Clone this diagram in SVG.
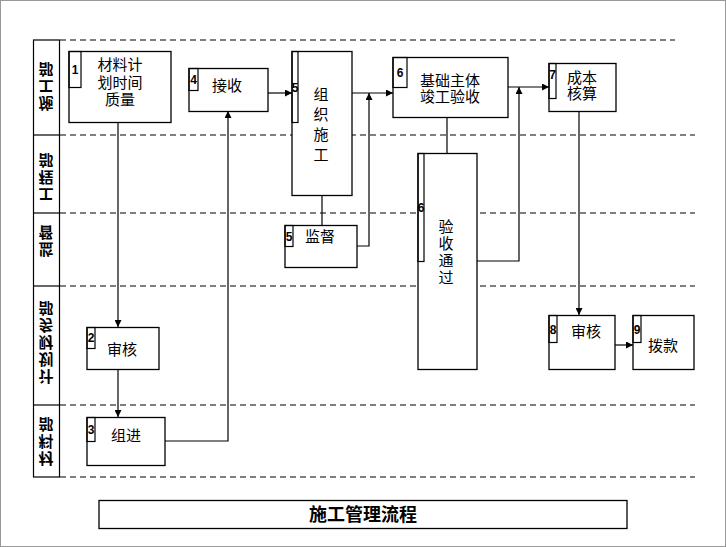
<svg xmlns="http://www.w3.org/2000/svg" width="726" height="547" viewBox="0 0 726 547">
<defs>
<marker id="arr" viewBox="0 0 10 10" refX="10" refY="5" markerWidth="7" markerHeight="7" markerUnits="userSpaceOnUse" orient="auto">
<path d="M0,0 L10,5 L0,10 z" fill="#000"/>
</marker>
<style>
.box{fill:#fff;stroke:#000;stroke-width:1.3}
.tab{fill:none;stroke:#000;stroke-width:1.2}
.dash{stroke:#000;stroke-width:1;stroke-dasharray:6 4;fill:none}
.solid{stroke:#000;stroke-width:1.2;fill:none}
.t{font-family:"Noto Sans CJK SC","Liberation Sans",sans-serif;font-size:15px;fill:#000;text-anchor:middle}
.v{font-family:"Noto Sans CJK SC",sans-serif;font-size:15px;fill:#000;text-anchor:middle;writing-mode:vertical-rl}
.n{font-family:"Liberation Sans",Arial,sans-serif;font-size:12px;font-weight:bold;fill:#000;text-anchor:middle}
.lane{font-family:"Noto Sans CJK SC",sans-serif;font-size:15px;font-weight:bold;fill:#000;text-anchor:middle;writing-mode:vertical-rl;letter-spacing:2px}
.title{font-family:"Noto Sans CJK SC",serif;font-size:18px;font-weight:bold;fill:#000;text-anchor:middle}
.c{stroke:#000;stroke-width:1.2;fill:none}
</style>
</defs>
<rect x="0" y="0" width="726" height="547" fill="#fff"/>
<rect x="0.5" y="0.5" width="725" height="546" fill="none" stroke="#999" stroke-width="1"/>

<g id="lanes">
<line class="dash" x1="60" y1="40" x2="675" y2="40"/>
<line class="dash" x1="60" y1="135" x2="695" y2="135"/>
<line class="dash" x1="60" y1="213" x2="695" y2="213"/>
<line class="dash" x1="60" y1="286" x2="695" y2="286"/>
<line class="dash" x1="60" y1="405" x2="695" y2="405"/>
<line class="dash" x1="60" y1="477" x2="695" y2="477"/>
<rect class="solid" x="33.5" y="40" width="26" height="437"/>
<line class="solid" x1="33.5" y1="135" x2="59.5" y2="135"/>
<line class="solid" x1="33.5" y1="213" x2="59.5" y2="213"/>
<line class="solid" x1="33.5" y1="286" x2="59.5" y2="286"/>
<line class="solid" x1="33.5" y1="405" x2="59.5" y2="405"/>
<g transform="translate(46,86) scale(1,-1)"><text class="lane" x="0" y="0">施工部</text></g>
<g transform="translate(46,177) scale(1,-1)"><text class="lane" x="0" y="0">工程部</text></g>
<g transform="translate(46,240) scale(1,-1)"><text class="lane" x="0" y="0">监督</text></g>
<g transform="translate(46,342) scale(1,-1)"><text class="lane" x="0" y="0">计划财务部</text></g>
<g transform="translate(46,441) scale(1,-1)"><text class="lane" x="0" y="0">材料部</text></g>
</g>

<g id="connectors">
<path class="c" d="M118,122 V327" marker-end="url(#arr)"/>
<path class="c" d="M118,369 V417" marker-end="url(#arr)"/>
<path class="c" d="M165,441 H228 V111" marker-end="url(#arr)"/>
<path class="c" d="M268,93 H292" marker-end="url(#arr)"/>
<path class="c" d="M352,93 H393" marker-end="url(#arr)"/>
<path class="c" d="M357,246 H369 V93" marker-end="url(#arr)"/>
<path class="c" d="M322,195 V225"/>
<path class="c" d="M447,117 V153"/>
<path class="c" d="M477,261 H519 V87" marker-end="url(#arr)"/>
<path class="c" d="M508,87 H549" marker-end="url(#arr)"/>
<path class="c" d="M579,112 V315" marker-end="url(#arr)"/>
<path class="c" d="M615,345 H633" marker-end="url(#arr)"/>
</g>

<g id="n1">
<rect class="box" x="69" y="51.5" width="102" height="71"/>
<rect class="tab" x="69" y="51.5" width="12" height="36"/>
<text class="n" x="75" y="74">1</text>
<text class="t" x="120" y="70"><tspan x="120" y="70">材料计</tspan><tspan x="120" y="88">划时间</tspan><tspan x="120" y="105">质量</tspan></text>
</g>
<g id="n4">
<rect class="box" x="189" y="68.5" width="79" height="43"/>
<rect class="tab" x="189" y="68.5" width="9" height="22"/>
<text class="n" x="193.5" y="84">4</text>
<text class="t" x="227" y="91">接收</text>
</g>
<g id="n5">
<rect class="box" x="292" y="51.5" width="60" height="144"/>
<rect class="tab" x="292" y="51.5" width="6" height="71"/>
<text class="n" x="295" y="92">5</text>
<text class="v" x="321" y="127" letter-spacing="5">组织施工</text>
</g>
<g id="n6">
<rect class="box" x="393" y="57.5" width="115" height="60"/>
<rect class="tab" x="393" y="57.5" width="14" height="30"/>
<text class="n" x="400" y="77">6</text>
<text class="t" x="450" y="86"><tspan x="450" y="86">基础主体</tspan><tspan x="450" y="102">竣工验收</tspan></text>
</g>
<g id="n7">
<rect class="box" x="549" y="63.5" width="67" height="48"/>
<rect class="tab" x="549" y="63.5" width="7" height="35"/>
<text class="n" x="552.5" y="79">7</text>
<text class="t" x="582" y="83"><tspan x="582" y="83">成本</tspan><tspan x="582" y="99">核算</tspan></text>
</g>
<g id="n5b">
<rect class="box" x="285" y="225.5" width="72" height="42"/>
<rect class="tab" x="285" y="225.5" width="8" height="21"/>
<text class="n" x="289" y="241">5</text>
<text class="t" x="320" y="242">监督</text>
</g>
<g id="n6b">
<rect class="box" x="418" y="153.5" width="59" height="216"/>
<rect class="tab" x="418" y="153.5" width="6" height="108"/>
<text class="n" x="421" y="212">6</text>
<text class="v" x="446" y="253" letter-spacing="2">验收通过</text>
</g>
<g id="n2">
<rect class="box" x="87" y="327.5" width="72" height="42"/>
<rect class="tab" x="87" y="327.5" width="8" height="21"/>
<text class="n" x="91" y="342">2</text>
<text class="t" x="122" y="355">审核</text>
</g>
<g id="n3">
<rect class="box" x="87" y="417.5" width="78" height="48"/>
<rect class="tab" x="87" y="417.5" width="8" height="24"/>
<text class="n" x="91" y="434">3</text>
<text class="t" x="126" y="441">组进</text>
</g>
<g id="n8">
<rect class="box" x="549" y="315.5" width="66" height="54"/>
<rect class="tab" x="549" y="315.5" width="8" height="27"/>
<text class="n" x="553" y="334">8</text>
<text class="t" x="586" y="337">审核</text>
</g>
<g id="n9">
<rect class="box" x="633" y="315.5" width="61" height="54"/>
<rect class="tab" x="633" y="315.5" width="8" height="27"/>
<text class="n" x="637" y="334">9</text>
<text class="t" x="663" y="351">拨款</text>
</g>
<g id="title">
<rect class="box" x="99" y="500.5" width="528" height="28"/>
<text class="title" x="363" y="521">施工管理流程</text>
</g>
</svg>
